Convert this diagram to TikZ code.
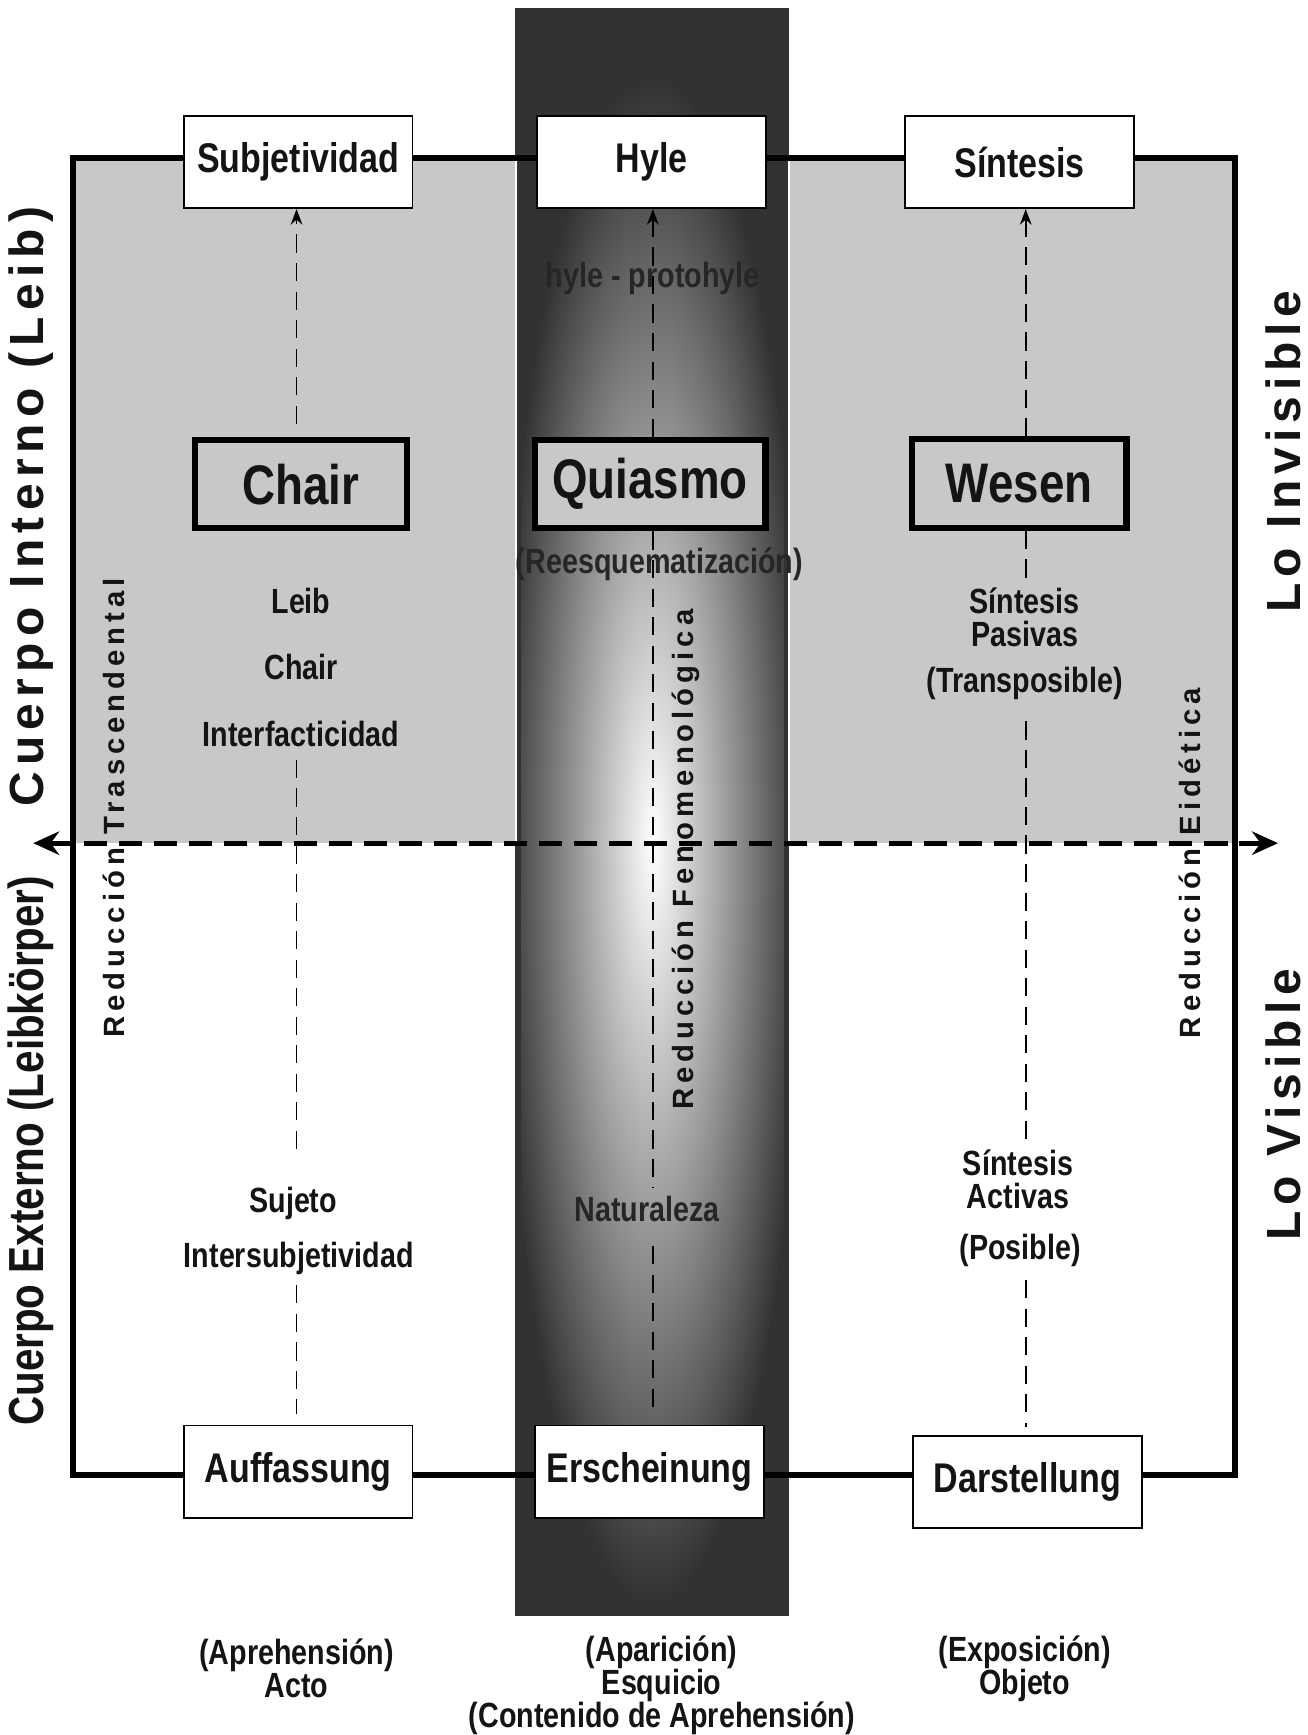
\documentclass[tikz,border=0pt]{standalone}
\usepackage{fontspec}
\setmainfont{Liberation Sans}
\newfontfamily\narrowfont[FakeStretch=0.82]{Liberation Sans}
\newfontfamily\spacedfont[LetterSpace=13]{Liberation Sans}
\newfontfamily\redfont[LetterSpace=17]{Liberation Sans}
\newfontfamily\lofont[LetterSpace=12]{Liberation Sans}
\usetikzlibrary{arrows.meta}
\definecolor{zonegray}{HTML}{C8C8C8}
\definecolor{coldark}{HTML}{323232}

\begin{document}
\begin{tikzpicture}[x=0.015cm, y=-0.015cm,
	every node/.style={align=center, text=black!92, inner sep=1pt},
	smallbox/.style={draw, fill=white, line width=0.7pt, minimum width=3.1cm, minimum height=1.25cm, inner sep=0pt, font=\narrowfont\bfseries\fontsize{16}{16}\selectfont},
	bigbox/.style={draw, fill=zonegray, line width=2.4pt, minimum height=1.2cm, inner sep=0pt, font=\narrowfont\bfseries\fontsize{21.5}{22}\selectfont},
	lbl/.style={font=\narrowfont\bfseries\fontsize{13.5}{12.8}\selectfont},
	redlbl/.style={rotate=90, font=\redfont\bfseries\fontsize{11.3}{11.3}\selectfont},
	lolbl/.style={rotate=90, font=\lofont\bfseries\fontsize{18.5}{18.5}\selectfont},
	vdash/.style={line width=0.6pt, dash pattern=on 7pt off 4pt},
	uparrow/.style={vdash, -{Stealth[length=6pt,width=4.5pt]}},
	frameline/.style={line width=2.5pt}]
	\useasboundingbox (0,0) rectangle (1182,1568);
	\fill[zonegray] (66,143) rectangle (466,762);
	\fill[zonegray] (713,143) rectangle (1116,762);
	\fill[coldark] (466,8) rectangle (713,1460);
	\begin{scope}
		\clip (471,13) rectangle (708,1455);
		\shade[inner color=white, outer color=coldark] (590,760) ellipse [x radius=138, y radius=690];
	\end{scope}
	\draw[coldark, line width=2pt] (468,10) rectangle (711,1458);
	\draw[white, line width=0.8pt] (466,143) -- (466,762) (713,143) -- (713,762);
	\coordinate (tl) at (66,143);
	\coordinate (tr) at (1116,143);
	\coordinate (br) at (1116,1333);
	\coordinate (bl) at (66,1333);
	\draw[frameline] (tl) -- (tr) -- (br) -- (bl) -- cycle;
	\coordinate (hl) at (30,762);
	\coordinate (hr) at (1155,762);
	\draw[line width=2pt, dash pattern=on 9pt off 4.5pt, {Stealth[length=10pt,width=9pt]}-{Stealth[length=10pt,width=9pt]}] (hl) -- (hr);

	\node[smallbox] (subj) at (269.5,146.5) {Subjetividad};
	\node[smallbox] (hyle) at (589,146.5) {Hyle};
	\node[smallbox] (sint) at (921.5,146.5) {Síntesis};
	\node[bigbox, minimum width=2.88cm] (chair) at (272,437.5) {Chair};
	\node[bigbox, minimum width=3.13cm] (quiasmo) at (587.5,437.5) {Quiasmo};
	\node[bigbox, minimum width=2.91cm] (wesen) at (921,437) {Wesen};
	\node[smallbox] (auff) at (269.5,1330) {Auffassung};
	\node[smallbox] (ersch) at (587,1330) {Erscheinung};
	\node[smallbox] (darst) at (928.5,1339.5) {Darstellung};

	\node[lbl, text=black!85] (protohyle) at (590,252) {hyle - protohyle};
	\node[lbl, text=black!85] (reesq) at (596,510) {(Reesquematización)};
	\node[lbl] (leib) at (272,543) {Leib};
	\node[lbl] (chairtxt) at (272,603) {Chair};
	\node[lbl] (interf) at (272,663) {Interfacticidad};
	\node[lbl] (pasivas) at (926,558) {Síntesis\\Pasivas};
	\node[lbl] (transp) at (926,618) {(Transposible)};
	\node[lbl] (sujeto) at (265,1088) {Sujeto};
	\node[lbl] (intersub) at (270,1137) {Intersubjetividad};
	\node[lbl, text=black!85] (natur) at (585,1093) {Naturaleza};
	\node[lbl] (activas) at (920,1066) {Síntesis\\Activas};
	\node[lbl] (posible) at (922,1130) {(Posible)};
	\node[lbl] (acto) at (268,1508) {(Aprehensión)\\Acto};
	\node[lbl] (esquicio) at (598,1523) {(Aparición)\\Esquicio\\(Contenido de Aprehensión)};
	\node[lbl] (objeto) at (926,1508) {(Exposición)\\Objeto};

	\coordinate (lx) at (268,0);
	\coordinate (mx) at (590,0);
	\coordinate (rx) at (927,0);
	\draw[uparrow, shorten <=5pt] (lx |- chair.north) -- (lx |- subj.south);
	\draw[uparrow] (mx |- quiasmo.north) -- (mx |- hyle.south);
	\draw[uparrow] (rx |- wesen.north) -- (rx |- sint.south);
	\draw[vdash, shorten <=4pt, shorten >=11pt] (lx |- interf.south) -- (lx |- sujeto.north);
	\draw[vdash, shorten <=3pt, shorten >=4pt] (lx |- intersub.south) -- (lx |- auff.north);
	\draw[vdash, shorten >=2pt] (mx |- quiasmo.south) -- (mx |- natur.north);
	\draw[vdash, shorten <=8pt, shorten >=7pt] (mx |- natur.south) -- (mx |- ersch.north);
	\draw[vdash] (rx |- wesen.south) -- (rx |- pasivas.north);
	\draw[vdash, shorten <=7pt] (rx |- transp.south) -- (rx |- activas.north);
	\draw[vdash, shorten <=4pt, shorten >=3pt] (rx |- posible.south) -- (rx |- darst.north);

	\node[rotate=90, font=\spacedfont\bfseries\fontsize{18.5}{18.5}\selectfont] (cint) at (28,458) {Cuerpo Interno (Leib)};
	\node[rotate=90, font=\narrowfont\bfseries\fontsize{19}{19}\selectfont] (cext) at (28,1040) {Cuerpo Externo (Leibkörper)};
	\node[redlbl] (redtras) at (103,730) {Reducción Trascendental};
	\node[redlbl] (redfen) at (620,777) {Reducción Fenomenológica};
	\node[redlbl] (redeid) at (1075,780) {Reducción Eidética};
	\node[lolbl] (invis) at (1160,408) {Lo Invisible};
	\node[lolbl] (visib) at (1160,998) {Lo Visible};
\end{tikzpicture}
\end{document}
